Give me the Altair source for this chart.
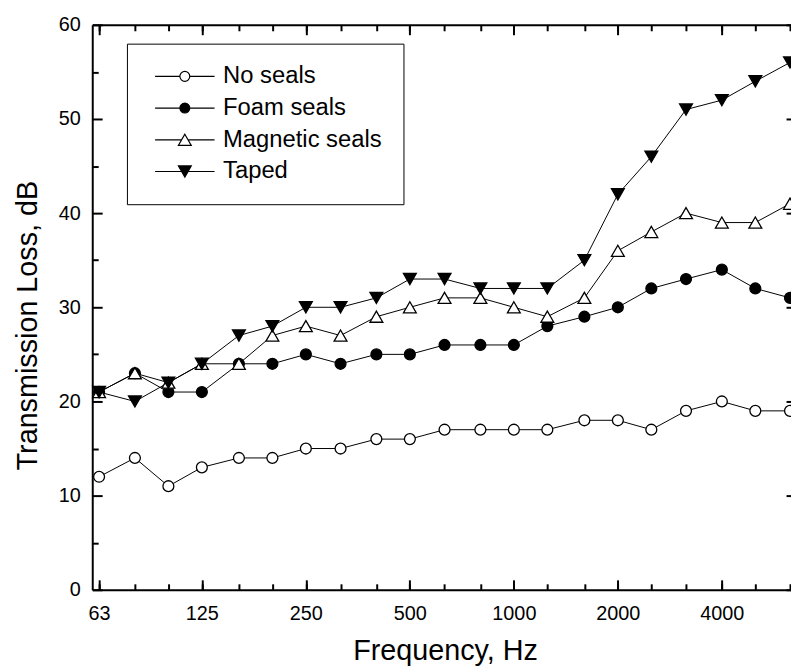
import altair as alt
import pandas as pd

# ---------------- data ----------------
freqs = [63, 80, 100, 125, 160, 200, 250, 315, 400, 500, 630, 800, 1000,
         1250, 1600, 2000, 2500, 3150, 4000, 5000, 6300]
no_seals = [12, 14, 11, 13, 14, 14, 15, 15, 16, 16, 17, 17, 17, 17, 18, 18, 17, 19, 20, 19, 19]
foam_seals = [21, 23, 21, 21, 24, 24, 25, 24, 25, 25, 26, 26, 26, 28, 29, 30, 32, 33, 34, 32, 31]
magnetic_seals = [21, 23, 22, 24, 24, 27, 28, 27, 29, 30, 31, 31, 30, 29, 31, 36, 38, 40, 39, 39, 41]
taped = [21, 20, 22, 24, 27, 28, 30, 30, 31, 33, 33, 32, 32, 32, 35, 42, 46, 51, 52, 54, 56]

series_names = ["No seals", "Foam seals", "Magnetic seals", "Taped"]
series_values = [no_seals, foam_seals, magnetic_seals, taped]

x_labels = [63, 125, 250, 500, 1000, 2000, 4000]
y_labels = [0, 10, 20, 30, 40, 50, 60]
y_minor = [5, 15, 25, 35, 45, 55]

rows = []
for name, vals in zip(series_names, series_values):
    for f, v in zip(freqs, vals):
        rows.append({"freq": f, "tl": v, "series": name})
df = pd.DataFrame(rows)

# ---------------- styling ----------------
FONT = "Liberation Sans"
xscale = alt.Scale(type="log", domain=[60.2, 6342], nice=False, zero=False)
yscale = alt.Scale(type="linear", domain=[0, 60], nice=False, zero=False)

marker_shapes = [
    "circle",
    "circle",
    "M0,-1.02L1.18,1.02L-1.18,1.02Z",
    "M0,1.02L1.18,-1.02L-1.18,-1.02Z",
]
marker_fills = ["white", "black", "white", "black"]
marker_strokes = ["black", "black", "black", "black"]

legend_shapes = [
    "M-0.766,0H3.401M5.067,0A0.833,0.833 0 1,1 3.401,0A0.833,0.833 0 1,1 5.067,0M5.067,0H9.234",
    "M-0.766,0H3.401M5.067,0A0.833,0.833 0 1,1 3.401,0A0.833,0.833 0 1,1 5.067,0M5.067,0H9.234",
    "M-0.766,0H3.693M4.234,-0.94L5.317,0.94L3.151,0.94ZM4.775,0H9.234",
    "M-0.766,0H3.693M4.234,0.94L5.317,-0.94L3.151,-0.94ZM4.775,0H9.234",
]


def tick_axis(orient, values, size):
    return alt.Axis(orient=orient, values=values, offset=-size, tickSize=size,
                    tickWidth=2, tickColor="black", ticks=True, domain=False,
                    labels=False, grid=False)


main_x_axis = alt.Axis(
    orient="bottom", values=x_labels, format="d", ticks=False, tickSize=0,
    domain=True, domainColor="black", domainWidth=2, labels=True,
    labelFontSize=20, labelColor="black", labelPadding=14, labelFlush=False,
    labelOverlap=False, grid=False, title="Frequency, Hz", titleFontSize=29,
    titleFontWeight="normal", titleColor="black", titleX=356, titleY=70,
    titleBaseline="alphabetic", titleAlign="center")

main_y_axis = alt.Axis(
    orient="left", values=y_labels, format="d", ticks=False, tickSize=0,
    domain=True, domainColor="black", domainWidth=2, labels=True,
    labelFontSize=20, labelColor="black", labelPadding=12, labelFlush=False,
    labelOverlap=False, grid=False, title="Transmission Loss, dB",
    titleFontSize=29, titleFontWeight="normal", titleColor="black",
    titleAngle=270, titleX=-56, titleY=303, titleBaseline="alphabetic",
    titleAlign="center")

base = alt.Chart(df)

lines = base.mark_line(color="black", strokeWidth=1).encode(
    x=alt.X("freq:Q", scale=xscale, axis=main_x_axis),
    y=alt.Y("tl:Q", scale=yscale, axis=main_y_axis),
    detail="series:N",
)

points = base.mark_point(filled=True, stroke="black", strokeWidth=1.3,
                         opacity=1, size=121).encode(
    x=alt.X("freq:Q", scale=xscale, axis=None),
    y=alt.Y("tl:Q", scale=yscale, axis=None),
    shape=alt.Shape("series:N", scale=alt.Scale(domain=series_names, range=marker_shapes), legend=None),
    fill=alt.Fill("series:N", scale=alt.Scale(domain=series_names, range=marker_fills), legend=None),
)

leg = alt.Legend(
    title=None, orient="none", legendX=35, legendY=19, padding=21,
    strokeColor="black", fillColor="white", labelFontSize=24, labelFont=FONT,
    labelColor="black", labelOffset=52, labelLimit=400, rowPadding=8,
    symbolStrokeColor="black", symbolStrokeWidth=1.2, symbolSize=144)

legend_layer = base.mark_point(filled=True, strokeWidth=1.2,
                               opacity=1, size=144).encode(
    x=alt.X("freq:Q", scale=xscale, axis=None),
    y=alt.Y("tl:Q", scale=yscale, axis=None),
    shape=alt.Shape("series:N", scale=alt.Scale(domain=series_names, range=legend_shapes), legend=leg),
    fill=alt.Fill("series:N", scale=alt.Scale(domain=series_names, range=marker_fills), legend=leg),
    stroke=alt.Stroke("series:N", scale=alt.Scale(domain=series_names, range=marker_strokes), legend=leg),
).transform_filter("datum.tl < 0")


def ghost(xaxis, yaxis):
    return base.mark_point(opacity=0).encode(
        x=alt.X("freq:Q", scale=xscale, axis=xaxis, title=None),
        y=alt.Y("tl:Q", scale=yscale, axis=yaxis, title=None),
    )


top_domain = alt.Axis(orient="top", domain=True, domainColor="black",
                      domainWidth=2, ticks=False, labels=False, grid=False)

t1 = ghost(tick_axis("bottom", x_labels, 10), tick_axis("left", y_labels, 10))
t2 = ghost(tick_axis("bottom", freqs, 6), tick_axis("left", y_minor, 6))
t3 = ghost(top_domain, tick_axis("right", y_labels, 5))
t4 = ghost(tick_axis("top", x_labels, 10), None)
t5 = ghost(tick_axis("top", freqs, 6), None)

chart = alt.layer(t1, t2, t3, t4, t5, lines, points, legend_layer).resolve_axis(
    x="independent", y="independent"
).resolve_scale(
    shape="independent", fill="independent", stroke="independent"
).properties(
    width=705, height=570,
    autosize=alt.AutoSizeParams(type="none"),
    padding={"left": 85, "top": 14, "right": 0, "bottom": 80},
).configure(font=FONT).configure_view(stroke=None)

chart.save("out.html", embed_options={"renderer": "svg", "actions": False})
